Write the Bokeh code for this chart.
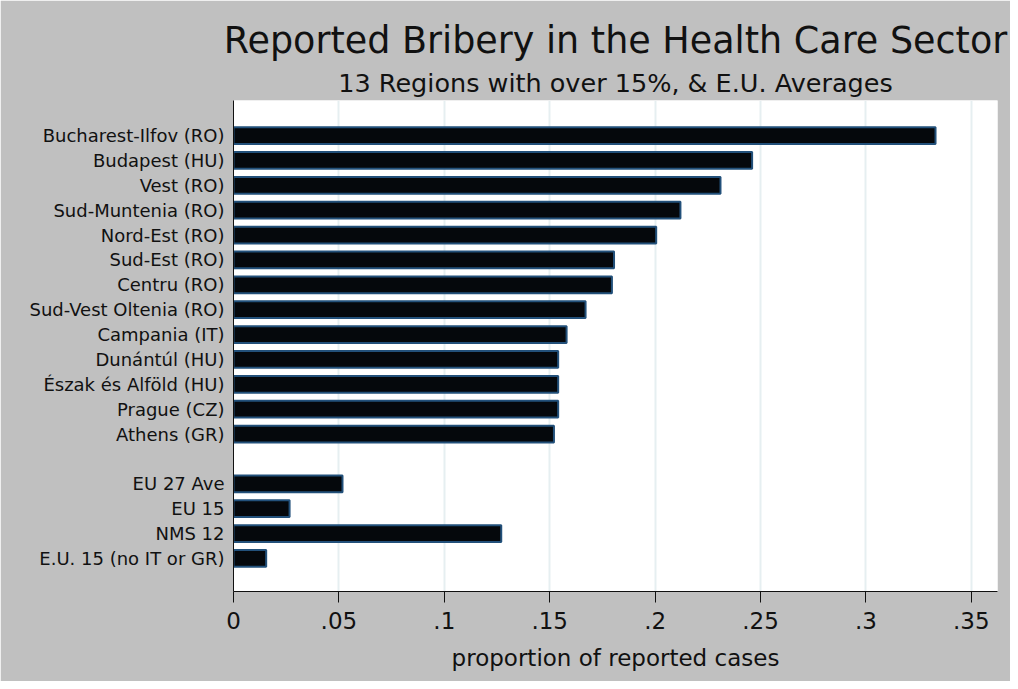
from bokeh.plotting import figure
from bokeh.models import Range1d, FixedTicker, Title
from bokeh.embed import file_html
from bokeh.resources import INLINE

regions = ["Bucharest-Ilfov (RO)", "Budapest (HU)", "Vest (RO)", "Sud-Muntenia (RO)",
           "Nord-Est (RO)", "Sud-Est (RO)", "Centru (RO)", "Sud-Vest Oltenia (RO)",
           "Campania (IT)", "Dunántúl (HU)", "Észak és Alföld (HU)", "Prague (CZ)",
           "Athens (GR)"]
region_values = [0.333, 0.246, 0.231, 0.212, 0.2005, 0.1805, 0.1795, 0.167,
                 0.158, 0.154, 0.154, 0.154, 0.152]
averages = ["EU 27 Ave", "EU 15", "NMS 12", "E.U. 15 (no IT or GR)"]
average_values = [0.0517, 0.0266, 0.127, 0.0155]
x_ticks = [0, 0.05, 0.1, 0.15, 0.2, 0.25, 0.3, 0.35]
x_tick_labels = ["0", ".05", ".1", ".15", ".2", ".25", ".3", ".35"]

labels = regions + averages
values = region_values + average_values
# one empty slot separates the regions from the averages
positions = list(range(len(regions))) + [len(regions) + 1 + i for i in range(len(averages))]

FONT = "DejaVu Sans"
GRAY = "#c0c0c0"

p = figure(width=1010, height=681, output_backend="svg", toolbar_location=None,
           x_range=Range1d(0, 0.3624), y_range=Range1d(18.33, -1.41),
           min_border_left=233, min_border_right=13, min_border_top=100,
           min_border_bottom=90)

p.hbar(y=positions, right=values, left=0, height=0.67,
       fill_color="#05080c", line_color="#22507a", line_width=2)

p.background_fill_color = "white"
p.border_fill_color = GRAY
p.outline_line_color = None

# titles
sub = Title(text="13 Regions with over 15%, & E.U. Averages", align="center",
            text_font=FONT, text_font_size="25.5px", text_font_style="normal",
            text_color="#111111", standoff=6)
p.add_layout(sub, "above")
main = Title(text="Reported Bribery in the Health Care Sector", align="center",
             text_font=FONT, text_font_size="36.5px", text_font_style="normal",
             text_color="#111111", standoff=2)
p.add_layout(main, "above")
p.title.visible = False

# x axis
p.xaxis.ticker = FixedTicker(ticks=x_ticks)
p.xaxis.major_label_overrides = {t: l for t, l in zip(x_ticks, x_tick_labels)}
p.xaxis.axis_label = "proportion of reported cases"
p.xaxis.axis_label_text_font = FONT
p.xaxis.axis_label_text_font_size = "23px"
p.xaxis.axis_label_text_font_style = "normal"
p.xaxis.axis_label_text_color = "#111111"
p.xaxis.axis_label_standoff = 13
p.xaxis.major_label_text_font = FONT
p.xaxis.major_label_text_font_size = "23px"
p.xaxis.major_label_text_color = "#111111"
p.xaxis.major_label_standoff = 9
p.xaxis.major_tick_out = 11
p.xaxis.major_tick_in = 0
p.xaxis.minor_tick_line_color = None
p.xaxis.axis_line_color = "#111111"
p.xaxis.major_tick_line_color = "#111111"

# y axis
p.yaxis.ticker = FixedTicker(ticks=positions)
p.yaxis.major_label_overrides = {pos: lab for pos, lab in zip(positions, labels)}
p.yaxis.major_label_text_font = FONT
p.yaxis.major_label_text_font_size = "18px"
p.yaxis.major_label_text_color = "#111111"
p.yaxis.major_label_standoff = 3
p.yaxis.major_tick_line_color = None
p.yaxis.minor_tick_line_color = None
p.yaxis.axis_line_color = "#111111"

# grid
p.xgrid.grid_line_color = "#e6eff1"
p.xgrid.grid_line_width = 2
p.ygrid.grid_line_color = None

open("out.html", "w").write(file_html(p, INLINE))
